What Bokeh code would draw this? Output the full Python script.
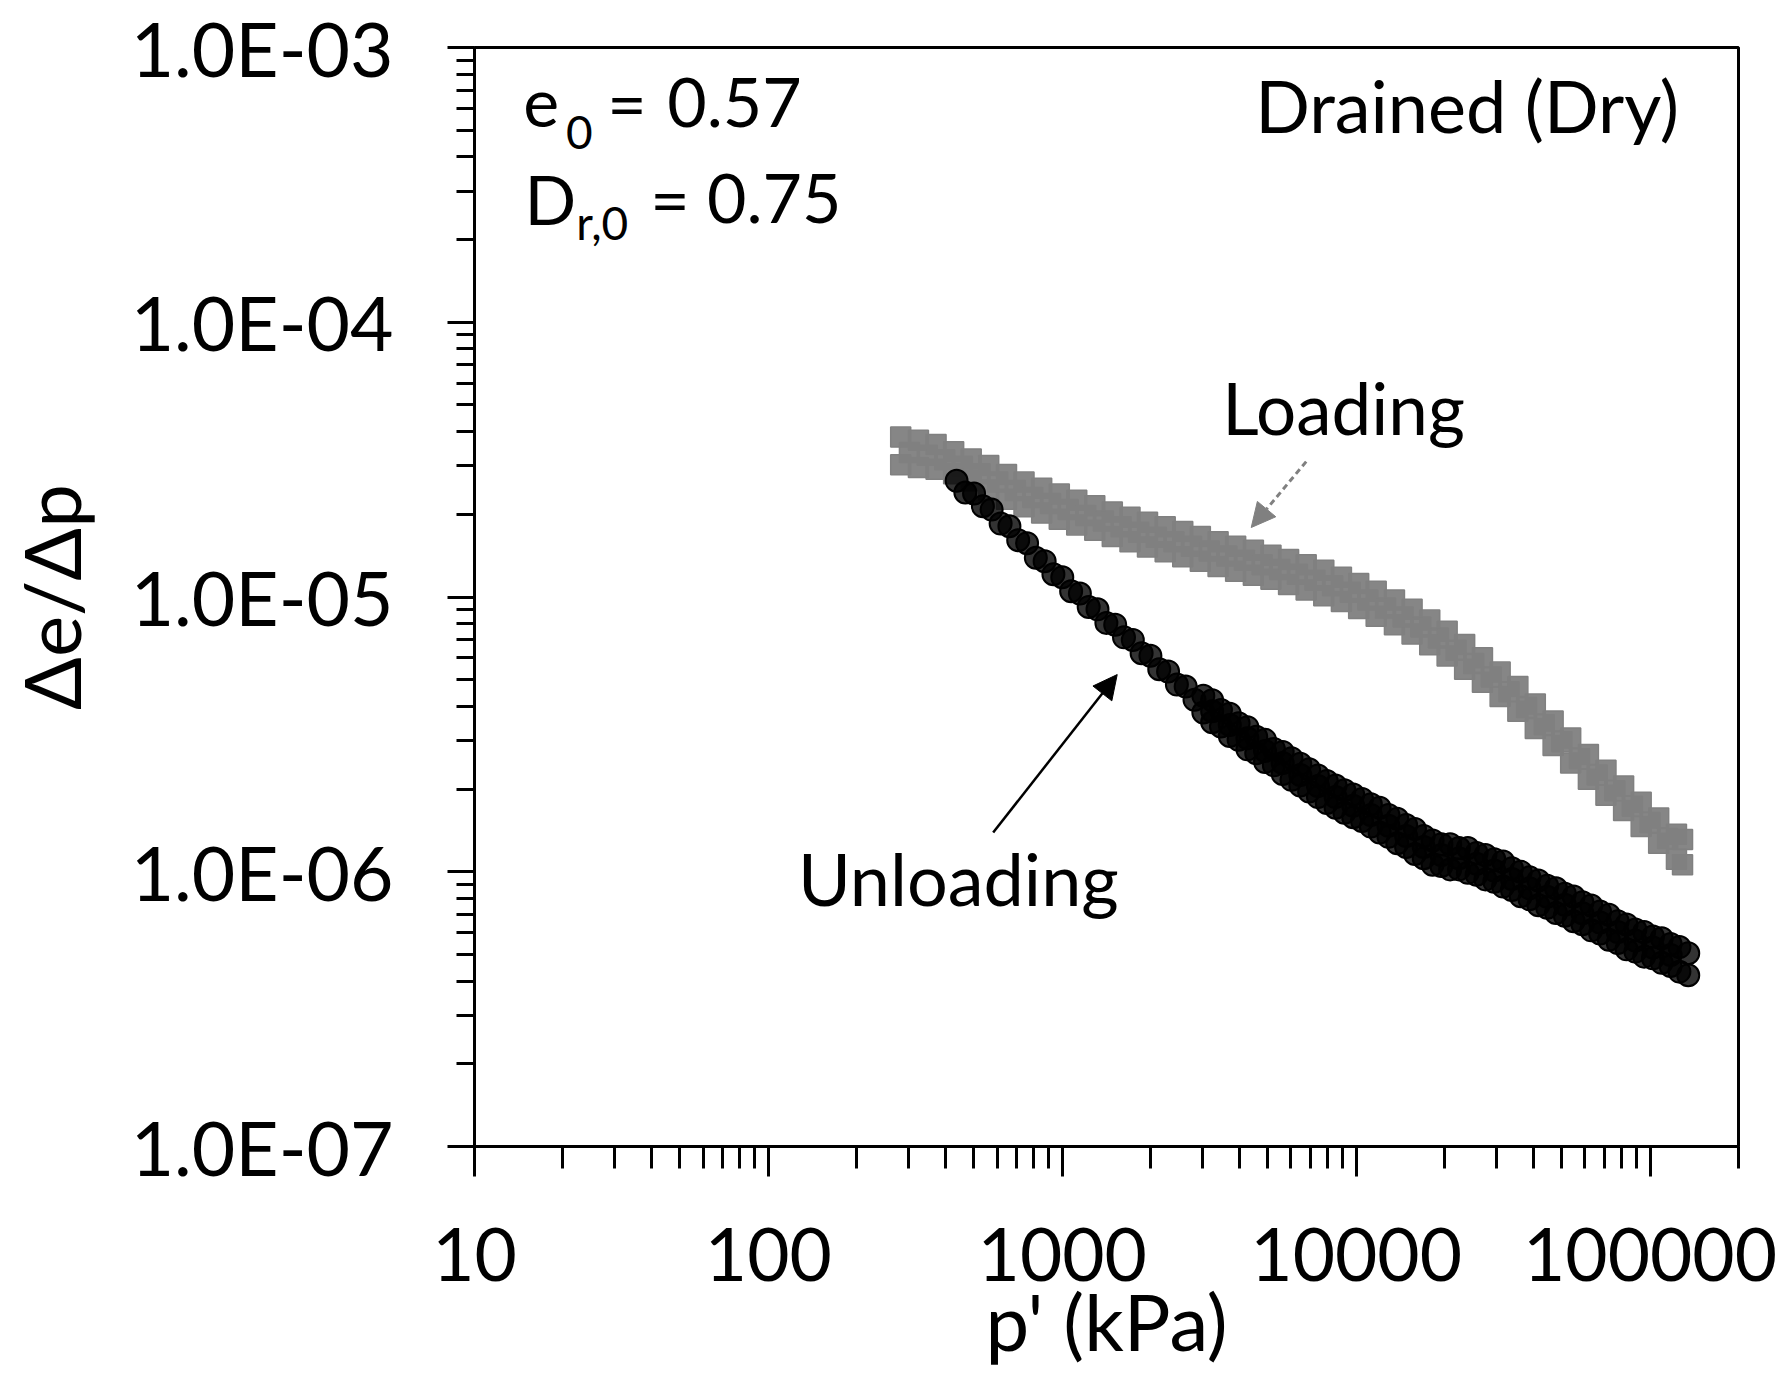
from bokeh.plotting import figure
from bokeh.models import FixedTicker, CustomJSTickFormatter, Label, Arrow, NormalHead, Range1d
from bokeh.embed import file_html
from bokeh.resources import INLINE

# ---------------- data ----------------
# Loading (grey squares): p' (kPa) and de/dp
load_p = [282, 282, 324, 324, 372, 372, 427, 427, 490, 490, 562, 562, 646, 646, 741, 741,
          851, 851, 977, 977, 1120, 1120, 1290, 1290, 1480, 1480, 1700, 1700, 1950, 1950,
          2240, 2240, 2570, 2570, 2950, 2950, 3390, 3390, 3890, 3890, 4470, 4470, 5130, 5130,
          5890, 5890, 6760, 6760, 7760, 7760, 8910, 8910, 10200, 10200, 11700, 11700,
          13500, 13500, 15500, 15500, 17800, 17800, 20400, 20400, 23400, 23400, 26900, 26900,
          30900, 30900, 35500, 35500, 40700, 40700, 46800, 46800, 53700, 53700, 61700, 61700,
          70800, 70800, 81300, 81300, 93300, 93300, 107000, 107000, 123000, 123000, 129000, 129000,
          302, 347, 398, 457, 525, 603, 692, 794, 912, 1047, 1202, 1380, 1585, 1820, 2089,
          2399, 2754, 3162, 3631, 4169, 4786, 5495, 6310, 7244, 8318, 9550, 10960, 12590,
          14450, 16600, 19050, 21880, 25120, 28840, 33110, 38020, 43650, 50120, 57540,
          66070, 75860, 87100, 100000, 114800]
load_e = [3.82e-5, 3.03e-5, 3.72e-5, 2.96e-5, 3.59e-5, 2.92e-5, 3.38e-5, 2.81e-5, 3.18e-5, 2.65e-5,
          3.01e-5, 2.45e-5, 2.79e-5, 2.27e-5, 2.62e-5, 2.13e-5, 2.49e-5, 2.02e-5, 2.37e-5, 1.92e-5,
          2.25e-5, 1.83e-5, 2.15e-5, 1.75e-5, 2.04e-5, 1.66e-5, 1.95e-5, 1.59e-5, 1.87e-5, 1.52e-5,
          1.80e-5, 1.46e-5, 1.73e-5, 1.40e-5, 1.66e-5, 1.35e-5, 1.59e-5, 1.29e-5, 1.53e-5, 1.24e-5,
          1.48e-5, 1.20e-5, 1.42e-5, 1.16e-5, 1.37e-5, 1.11e-5, 1.31e-5, 1.06e-5, 1.25e-5, 1.01e-5,
          1.18e-5, 9.62e-6, 1.12e-5, 9.08e-6, 1.05e-5, 8.51e-6, 9.75e-6, 7.93e-6, 9.02e-6, 7.33e-6,
          8.24e-6, 6.70e-6, 7.50e-6, 6.10e-6, 6.71e-6, 5.46e-6, 6.01e-6, 4.89e-6, 5.33e-6, 4.34e-6,
          4.72e-6, 3.84e-6, 4.08e-6, 3.32e-6, 3.54e-6, 2.88e-6, 3.07e-6, 2.49e-6, 2.67e-6, 2.17e-6,
          2.34e-6, 1.90e-6, 2.05e-6, 1.67e-6, 1.79e-6, 1.46e-6, 1.57e-6, 1.27e-6, 1.37e-6, 1.11e-6,
          1.31e-6, 1.06e-6,
          3.36e-5, 3.28e-5, 3.16e-5, 2.99e-5, 2.81e-5, 2.62e-5, 2.44e-5, 2.30e-5, 2.19e-5,
          2.08e-5, 1.98e-5, 1.89e-5, 1.80e-5, 1.72e-5, 1.65e-5, 1.59e-5, 1.53e-5, 1.47e-5,
          1.41e-5, 1.36e-5, 1.31e-5, 1.26e-5, 1.21e-5, 1.15e-5, 1.10e-5, 1.04e-5, 9.75e-6,
          9.11e-6, 8.45e-6, 7.77e-6, 7.09e-6, 6.40e-6, 5.73e-6, 5.11e-6, 4.52e-6, 3.96e-6,
          3.43e-6, 2.97e-6, 2.58e-6, 2.25e-6, 1.97e-6, 1.73e-6, 1.51e-6, 1.32e-6]

# Unloading (black circles)
unload_p = [437, 468, 501, 537, 575, 617, 661, 708, 759, 813, 871, 933, 1000, 1072, 1148, 1230,
            1318, 1413, 1514, 1622, 1738, 1862, 1995, 2138, 2291, 2455, 2630, 2818,
            3020, 3020, 3467, 3467, 3981, 3981, 4571, 4571, 5248, 5248, 6026, 6026, 6918, 6918,
            7943, 7943, 9120, 9120, 10470, 10470, 12020, 12020, 13800, 13800, 15850, 15850,
            18200, 18200, 20890, 20890, 23990, 23990, 27540, 27540, 31620, 31620, 36310, 36310,
            41690, 41690, 47860, 47860, 54950, 54950, 63100, 63100, 72440, 72440, 83180, 83180,
            95500, 95500, 109600, 109600, 125900, 125900, 134900, 134900,
            3236, 3715, 4266, 4898, 5623, 6457, 7413, 8511, 9772, 11220, 12880, 14790, 16980,
            19500, 22390, 25700, 29510, 33880, 38900, 44670, 51290, 58880, 67610, 77620,
            89130, 102300, 117500,
            3236, 3236, 3715, 3715, 4266, 4266, 4898, 4898, 5623, 5623, 6457, 6457, 7413, 7413,
            8511, 8511, 9772, 9772, 11220, 11220, 12880, 12880, 14790, 14790, 16980, 16980,
            19500, 19500, 22390, 22390, 25700, 25700, 29510, 29510, 33880, 33880, 38900, 38900,
            44670, 44670, 51290, 51290, 58880, 58880, 67610, 67610, 77620, 77620, 89130, 89130,
            102300, 102300, 117500, 117500]
unload_e = [2.65e-5, 2.40e-5, 2.38e-5, 2.14e-5, 2.08e-5, 1.85e-5, 1.81e-5, 1.61e-5, 1.57e-5,
            1.39e-5, 1.35e-5, 1.21e-5, 1.18e-5, 1.05e-5, 1.03e-5, 9.20e-6, 9.02e-6, 8.05e-6,
            7.93e-6, 7.13e-6, 6.98e-6, 6.24e-6, 6.11e-6, 5.46e-6, 5.36e-6, 4.80e-6, 4.72e-6, 4.23e-6,
            4.37e-6, 3.80e-6, 3.88e-6, 3.38e-6, 3.47e-6, 3.02e-6, 3.10e-6, 2.70e-6, 2.80e-6, 2.44e-6,
            2.59e-6, 2.16e-6, 2.36e-6, 1.96e-6, 2.14e-6, 1.78e-6, 1.98e-6, 1.64e-6, 1.84e-6, 1.53e-6,
            1.71e-6, 1.39e-6, 1.56e-6, 1.27e-6, 1.43e-6, 1.16e-6, 1.30e-6, 1.06e-6, 1.26e-6, 1.02e-6,
            1.22e-6, 9.91e-7, 1.15e-6, 9.38e-7, 1.09e-6, 8.83e-7, 1.00e-6, 8.15e-7, 9.29e-7, 7.55e-7,
            8.71e-7, 7.08e-7, 8.13e-7, 6.61e-7, 7.53e-7, 6.12e-7, 6.97e-7, 5.66e-7, 6.43e-7, 5.22e-7,
            6.04e-7, 4.91e-7, 5.73e-7, 4.66e-7, 5.32e-7, 4.33e-7, 5.05e-7, 4.20e-7,
            3.84e-6, 3.42e-6, 3.06e-6, 2.75e-6, 2.49e-6, 2.25e-6, 2.05e-6, 1.87e-6, 1.74e-6,
            1.61e-6, 1.47e-6, 1.35e-6, 1.23e-6, 1.15e-6, 1.12e-6, 1.07e-6, 1.01e-6, 9.41e-7,
            8.70e-7, 8.11e-7, 7.59e-7, 7.06e-7, 6.53e-7, 6.03e-7, 5.62e-7, 5.30e-7, 4.98e-7,
            4.21e-6, 3.50e-6, 3.76e-6, 3.12e-6, 3.36e-6, 2.79e-6, 3.02e-6, 2.51e-6, 2.73e-6, 2.27e-6,
            2.47e-6, 2.06e-6, 2.24e-6, 1.87e-6, 2.06e-6, 1.71e-6, 1.91e-6, 1.58e-6, 1.76e-6, 1.46e-6,
            1.61e-6, 1.34e-6, 1.48e-6, 1.23e-6, 1.35e-6, 1.12e-6, 1.26e-6, 1.05e-6, 1.22e-6, 1.02e-6,
            1.17e-6, 9.75e-7, 1.11e-6, 9.20e-7, 1.03e-6, 8.58e-7, 9.54e-7, 7.94e-7, 8.89e-7, 7.40e-7,
            8.32e-7, 6.92e-7, 7.74e-7, 6.44e-7, 7.16e-7, 5.96e-7, 6.61e-7, 5.50e-7, 6.16e-7, 5.12e-7,
            5.81e-7, 4.84e-7, 5.46e-7, 4.54e-7]

x_major = [10, 100, 1000, 10000, 100000]
y_major = [1e-7, 1e-6, 1e-5, 1e-4, 1e-3]
x_minor = [m * d for d in [10, 100, 1000, 10000, 100000] for m in range(2, 10) if m * d <= 200000]
y_minor = [m * d for d in [1e-7, 1e-6, 1e-5, 1e-4] for m in range(2, 10)]

FONT = "Lato"

p = figure(width=1785, height=1378, x_axis_type="log", y_axis_type="log",
           x_range=Range1d(10, 200000), y_range=Range1d(1e-7, 1e-3),
           output_backend="svg", toolbar_location=None,
           min_border_left=468, min_border_right=47, min_border_top=47, min_border_bottom=232)
p.xgrid.visible = False
p.ygrid.visible = False
p.outline_line_color = "black"
p.outline_line_width = 3
p.background_fill_color = "white"
p.border_fill_color = "white"

xa = p.xaxis[0]
xa.ticker = FixedTicker(ticks=x_major, minor_ticks=x_minor)
xa.formatter = CustomJSTickFormatter(code="return tick.toFixed(0);")
ya = p.yaxis[0]
ya.ticker = FixedTicker(ticks=y_major, minor_ticks=y_minor)
ya.formatter = CustomJSTickFormatter(code="""
const e = Math.round(Math.log10(tick));
const a = Math.abs(e);
return "1.0E" + (e < 0 ? "-" : "+") + (a < 10 ? "0" + a : "" + a);
""")

for ax in (xa, ya):
    ax.axis_line_width = 3
    ax.axis_line_color = "black"
    ax.major_tick_line_width = 3
    ax.minor_tick_line_width = 3
    ax.major_tick_line_color = "black"
    ax.minor_tick_line_color = "black"
    ax.major_tick_in = 0
    ax.minor_tick_in = 0
    ax.major_label_text_font = FONT
    ax.major_label_text_color = "black"
    ax.axis_label_text_font = FONT
    ax.axis_label_text_font_style = "normal"
    ax.axis_label_text_font_size = "78px"
    ax.axis_label_text_color = "black"

xa.major_label_text_font_size = "73px"
ya.major_label_text_font_size = "75px"

xa.major_tick_out = 30
xa.minor_tick_out = 22
xa.major_label_standoff = 51
xa.axis_label = "p' (kPa)"
xa.axis_label_standoff = -10

ya.major_tick_out = 27
ya.minor_tick_out = 18
ya.major_label_standoff = 54
ya.axis_label = "\u0394e/\u0394p"
ya.axis_label_standoff = 30

# data
p.scatter(load_p, load_e, marker="square", size=20, line_color="#808080",
          fill_color="#808080", fill_alpha=0.95, line_width=1.5)
p.scatter(unload_p, unload_e, marker="circle", size=22, line_color="black",
          fill_color="black", fill_alpha=0.8, line_width=2)

# arrows
p.add_layout(Arrow(end=NormalHead(size=24, fill_color="#808080", line_color="#808080"),
                   x_start=6760, y_start=3.11e-5, x_end=4395, y_end=1.79e-5,
                   line_color="#808080", line_width=3, line_dash="6 4"))
p.add_layout(Arrow(end=NormalHead(size=24, fill_color="black", line_color="black"),
                   x_start=582, y_start=1.39e-6, x_end=1538, y_end=5.22e-6,
                   line_color="black", line_width=2.5))

def lab(x, y, t, size, align="left"):
    p.add_layout(Label(x=x, y=y, text=t, text_font=FONT, text_font_size=size,
                       text_color="black", text_align=align, text_baseline="alphabetic"))

lab(14.65, 6.33e-4, "e", "68px")
lab(20.5, 4.92e-4, "0", "46px")
lab(28.3, 6.33e-4, "=", "68px")
lab(45.3, 6.33e-4, "0.57", "68px")
lab(14.8, 2.83e-4, "D", "68px")
lab(22.2, 2.30e-4, "r,0", "46px")
lab(39.6, 2.83e-4, "=", "68px")
lab(61.8, 2.83e-4, "0.75", "68px")
lab(125500, 6.19e-4, "Drained (Dry)", "72px", align="right")
lab(3500, 4.89e-5, "Loading", "71px")
lab(126, 9.5e-7, "Unloading", "72px")

open("out.html", "w").write(file_html(p, INLINE))
